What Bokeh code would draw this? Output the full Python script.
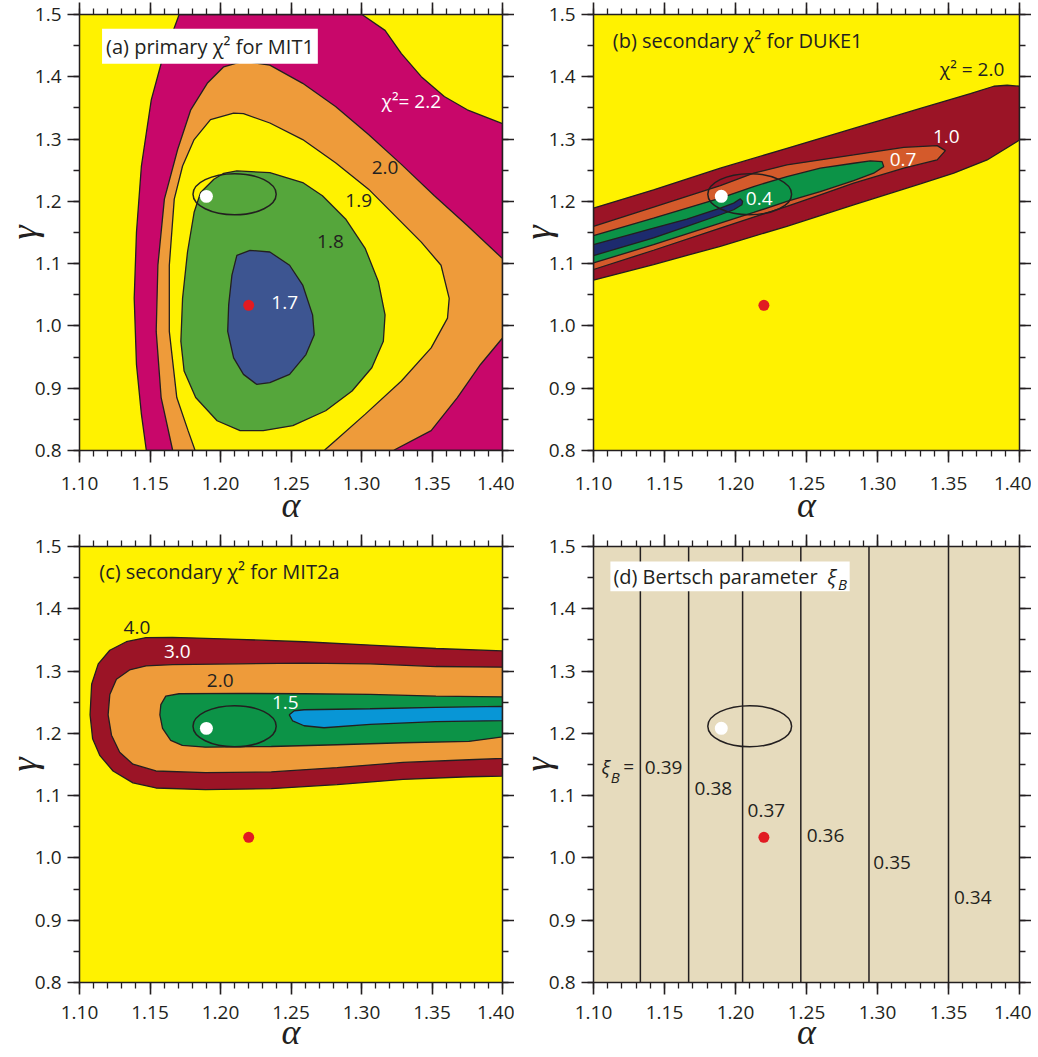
from bokeh.plotting import figure
from bokeh.models import (Range1d, LinearAxis, FixedTicker, ColumnDataSource,
                          Label, Span, BoxAnnotation)
from bokeh.layouts import column, row
from bokeh.embed import file_html
from bokeh.resources import INLINE
from bokeh.core.properties import value

# ---------------- axes / ticks ----------------
X_MAJOR = [1.10, 1.15, 1.20, 1.25, 1.30, 1.35, 1.40]
X_LABELS = ["1.10", "1.15", "1.20", "1.25", "1.30", "1.35", "1.40"]
X_MINOR = [round(1.10 + 0.01 * i, 2) for i in range(31)]
Y_MAJOR = [0.8, 0.9, 1.0, 1.1, 1.2, 1.3, 1.4, 1.5]
Y_LABELS = ["0.8", "0.9", "1.0", "1.1", "1.2", "1.3", "1.4", "1.5"]
Y_MINOR = [round(0.8 + 0.05 * i, 2) for i in range(15)]

# ---------------- common markers ----------------
white_point = (1.190, 1.208)
red_point = (1.220, 1.033)
ellipse_center = (1.210, 1.2115)
ellipse_half = (0.0295, 0.033)

# ---------------- panel (a) primary chi2 MIT1 ----------------
a_chi22_alpha = [1.1707, 1.1579, 1.1509, 1.1439, 1.1404, 1.1388, 1.1404, 1.1439, 1.1474,
                 1.400, 1.400, 1.3750, 1.3587, 1.3424, 1.3283, 1.3167, 1.3003]
a_chi22_gamma = [1.5, 1.4214, 1.3630, 1.2568, 1.1505, 1.0443, 0.9381, 0.8584, 0.8,
                 0.8, 1.3247, 1.3470, 1.3683, 1.4002, 1.4373, 1.4745, 1.5]
a_chi20_alpha = [1.1661, 1.1579, 1.1544, 1.1556, 1.1602, 1.1696, 1.1789, 1.1906, 1.2023,
                 1.2163, 1.2350, 1.2583, 1.2816, 1.3050, 1.3283, 1.3517, 1.3750, 1.400,
                 1.400, 1.3844, 1.3680, 1.3494, 1.3225]
a_chi20_gamma = [0.8, 0.8850, 0.9912, 1.0974, 1.2036, 1.2833, 1.3470, 1.3895, 1.4161,
                 1.4251, 1.4187, 1.3895, 1.3524, 1.3072, 1.2594, 1.2090, 1.1612, 1.1081,
                 0.9806, 0.9381, 0.8850, 0.8319, 0.8]
a_chi19_alpha = [1.2093, 1.1929, 1.1813, 1.1731, 1.1672, 1.1637, 1.1637, 1.1690, 1.1770,
                 1.1820, 1.2735, 1.2816, 1.3027, 1.3283, 1.3494, 1.3610, 1.3622, 1.3564,
                 1.3424, 1.3237, 1.3050, 1.2816, 1.2583, 1.2350, 1.2163]
a_chi19_gamma = [1.3417, 1.3311, 1.2992, 1.2568, 1.2036, 1.0974, 0.9912, 0.8850, 0.8319,
                 0.8, 0.8, 0.8160, 0.8584, 0.9115, 0.9647, 1.0125, 1.0443, 1.0974,
                 1.1346, 1.1771, 1.2196, 1.2621, 1.2992, 1.3258, 1.3407]
a_chi18_alpha = [1.2116, 1.2350, 1.2583, 1.2723, 1.2887, 1.3027, 1.3120, 1.3167, 1.3155,
                 1.3073, 1.2933, 1.2746, 1.2513, 1.2303, 1.2139, 1.1976, 1.1824, 1.1742,
                 1.1719, 1.1731, 1.1766, 1.1813, 1.1859, 1.1953, 1.2023]
a_chi18_gamma = [1.2488, 1.2461, 1.2302, 1.2090, 1.1718, 1.1240, 1.0709, 1.0178, 0.9753,
                 0.9328, 0.8956, 0.8638, 0.8399, 0.8319, 0.8319, 0.8478, 0.8850, 0.9275,
                 0.9753, 1.0443, 1.1187, 1.1824, 1.2143, 1.2355, 1.2451]
a_chi17_alpha = [1.2116, 1.2209, 1.2350, 1.2490, 1.2583, 1.2653, 1.2665, 1.2606, 1.2490,
                 1.2350, 1.2256, 1.2163, 1.2093, 1.2051, 1.2058, 1.2081]
a_chi17_gamma = [1.1134, 1.1213, 1.1187, 1.0974, 1.0656, 1.0178, 0.9859, 0.9540, 0.9222,
                 0.9089, 0.9062, 0.9222, 0.9487, 0.9912, 1.0337, 1.0815]
a_lab_text = ["χ²= 2.2", "2.0", "1.9", "1.8", "1.7"]
a_lab_alpha = [1.3353, 1.3167, 1.2980, 1.2780, 1.2455]
a_lab_gamma = [1.3619, 1.2540, 1.2010, 1.1360, 1.0380]

# ---------------- panel (b) secondary chi2 DUKE1 ----------------
b_chi20_alpha = [1.100, 1.1423, 1.1893, 1.2362, 1.2832, 1.3302, 1.3654, 1.3819, 1.3913, 1.400,
                 1.400, 1.3772, 1.3537, 1.3302, 1.2832, 1.2362, 1.1893, 1.1423, 1.100]
b_chi20_gamma = [1.1892, 1.2185, 1.2532, 1.2851, 1.3171, 1.3491, 1.3731, 1.3848, 1.3864, 1.3848,
                 1.2985, 1.2665, 1.2452, 1.2281, 1.1945, 1.1599, 1.1279, 1.0986, 1.0735]
b_chi10_alpha = [1.100, 1.1423, 1.1893, 1.2128, 1.2362, 1.2832, 1.3185, 1.3420, 1.3478,
                 1.3420, 1.3185, 1.2832, 1.2597, 1.2362, 1.2128, 1.1893, 1.1423, 1.100]
b_chi10_gamma = [1.1599, 1.1908, 1.2254, 1.2452, 1.2585, 1.2745, 1.2867, 1.2894, 1.2814,
                 1.2665, 1.2532, 1.2292, 1.2105, 1.1919, 1.1748, 1.1572, 1.1215, 1.0906]
b_chi07_alpha = [1.100, 1.1423, 1.1893, 1.2128, 1.2362, 1.2597, 1.2832, 1.2950, 1.3032,
                 1.3044, 1.2973, 1.2832, 1.2597, 1.2362, 1.2128, 1.1893, 1.1423, 1.100]
b_chi07_gamma = [1.1449, 1.1732, 1.2052, 1.2238, 1.2398, 1.2532, 1.2612, 1.2649, 1.2638,
                 1.2558, 1.2452, 1.2334, 1.2158, 1.1998, 1.1822, 1.1652, 1.1305, 1.1012]
b_chi04_alpha = [1.100, 1.1423, 1.1658, 1.1893, 1.1987, 1.2034, 1.2050, 1.2045, 1.1987,
                 1.1893, 1.1658, 1.1423, 1.100]
b_chi04_gamma = [1.1305, 1.1572, 1.1716, 1.1892, 1.1972, 1.2041, 1.1998, 1.1945, 1.1865,
                 1.1785, 1.1599, 1.1412, 1.1129]
b_lab_text = ["χ² = 2.0", "1.0", "0.7", "0.4"]
b_lab_alpha = [1.3666, 1.3485, 1.3180, 1.2167]
b_lab_gamma = [1.4131, 1.3049, 1.2665, 1.2041]

# ---------------- panel (c) secondary chi2 MIT2a ----------------
c_chi40_alpha = [1.400, 1.3528, 1.3061, 1.2593, 1.2126, 1.1659, 1.1472, 1.1332, 1.1215, 1.1133,
                 1.1086, 1.1075, 1.1093, 1.1145, 1.1238, 1.1379, 1.1542, 1.1893, 1.2360,
                 1.2827, 1.3294, 1.3762, 1.400]
c_chi40_gamma = [1.3324, 1.3362, 1.3417, 1.3471, 1.3509, 1.3542, 1.3537, 1.3471, 1.3335, 1.3116,
                 1.2789, 1.2297, 1.1915, 1.1642, 1.1396, 1.1205, 1.1123, 1.1096, 1.1112,
                 1.1178, 1.1260, 1.1303, 1.1314]
c_chi30_alpha = [1.400, 1.3528, 1.3061, 1.2593, 1.2126, 1.1659, 1.1472, 1.1355, 1.1262, 1.1215,
                 1.1203, 1.1227, 1.1285, 1.1379, 1.1542, 1.1893, 1.2360, 1.2827, 1.3294,
                 1.3762, 1.400]
c_chi30_gamma = [1.3062, 1.3073, 1.3116, 1.3127, 1.3116, 1.3105, 1.3083, 1.3018, 1.2870, 1.2625,
                 1.2297, 1.1970, 1.1697, 1.1505, 1.1396, 1.1369, 1.1380, 1.1451, 1.1533,
                 1.1576, 1.1598]
c_chi20_alpha = [1.400, 1.3528, 1.3061, 1.2593, 1.2126, 1.1706, 1.1612, 1.1577, 1.1570, 1.1589,
                 1.1647, 1.1729, 1.1893, 1.2360, 1.2827, 1.3294, 1.3762, 1.400]
c_chi20_gamma = [1.2587, 1.2597, 1.2625, 1.2636, 1.2641, 1.2636, 1.2597, 1.2461, 1.2297, 1.2079,
                 1.1888, 1.1806, 1.1778, 1.1789, 1.1817, 1.1849, 1.1871, 1.1942]
c_chi15_alpha = [1.2488, 1.2523, 1.2593, 1.3061, 1.3528, 1.400, 1.400, 1.3528, 1.3061, 1.2734,
                 1.2593, 1.2512]
c_chi15_gamma = [1.2297, 1.2363, 1.2379, 1.2395, 1.2417, 1.2434, 1.2204, 1.2188, 1.2144, 1.2090,
                 1.2122, 1.2199]
c_lab_text = ["4.0", "3.0", "2.0", "1.5"]
c_lab_alpha = [1.1407, 1.1694, 1.1998, 1.2460]
c_lab_gamma = [1.3700, 1.3307, 1.2854, 1.2500]

# ---------------- panel (d) Bertsch parameter ----------------
xi_line_alpha = [1.133, 1.167, 1.205, 1.246, 1.294, 1.350]
xi_lab_text = ["0.39", "0.38", "0.37", "0.36", "0.35", "0.34"]
xi_lab_alpha = [1.1494, 1.1844, 1.2217, 1.2634, 1.3103, 1.3671]
xi_lab_gamma = [1.1457, 1.1120, 1.0768, 1.0360, 0.9927, 0.9368]

# ---------------- styling ----------------
FONT = "Open Sans"
GREEK = "Liberation Serif"
INK = "#231f20"
YELLOW = "#fff200"
MAGENTA = "#c8076a"
ORANGE = "#ee9b3a"
GREEN_A = "#55a63b"
BLUE_A = "#3d5591"
DARKRED = "#9b1426"
ORANGERED = "#d45a2b"
GREEN_B = "#0c9347"
NAVY = "#1d2b6e"
LIGHTBLUE = "#0896d6"
BEIGE = "#e6dbbd"
REDDOT = "#e11b22"


def make_panel(bg, width, height, left, bottom, tick_standoff, xlab_standoff):
    p = figure(width=width, height=height,
               x_range=Range1d(1.10, 1.40), y_range=Range1d(0.8, 1.5),
               output_backend="svg", toolbar_location=None,
               x_axis_location=None, y_axis_location=None,
               min_border_left=left, min_border_right=0, min_border_top=14,
               min_border_bottom=bottom,
               background_fill_color=bg, border_fill_color="white",
               outline_line_color=None)
    p.grid.visible = False
    common = dict(axis_line_width=1.5, axis_line_color=INK,
                  major_tick_line_width=1.6, major_tick_line_color=INK,
                  minor_tick_line_width=1.3, minor_tick_line_color=INK,
                  major_tick_out=12, major_tick_in=0,
                  minor_tick_out=6, minor_tick_in=0)
    xt = FixedTicker(ticks=X_MAJOR, minor_ticks=X_MINOR)
    yt = FixedTicker(ticks=Y_MAJOR, minor_ticks=Y_MINOR)
    xb = LinearAxis(ticker=xt, major_label_overrides=dict(zip(X_MAJOR, X_LABELS)),
                    major_label_text_font=FONT, major_label_text_font_size="19px",
                    major_label_text_color=INK, major_label_standoff=tick_standoff,
                    axis_label="α", axis_label_text_font=GREEK,
                    axis_label_text_font_style="italic", axis_label_text_font_size="36px",
                    axis_label_text_color=INK, axis_label_standoff=xlab_standoff, **common)
    yl = LinearAxis(ticker=yt, major_label_overrides=dict(zip(Y_MAJOR, Y_LABELS)),
                    major_label_text_font=FONT, major_label_text_font_size="19px",
                    major_label_text_color=INK, major_label_standoff=6,
                    axis_label="γ", axis_label_text_font=GREEK,
                    axis_label_text_font_style="italic", axis_label_text_font_size="36px",
                    axis_label_text_color=INK, axis_label_standoff=-12, **common)
    xa = LinearAxis(ticker=xt, major_label_text_font_size="0px", major_label_text_color=None,
                    major_label_standoff=0, **common)
    yr = LinearAxis(ticker=yt, major_label_text_font_size="0px", major_label_text_color=None,
                    major_label_standoff=0, **common)
    p.add_layout(xb, "below")
    p.add_layout(yl, "left")
    p.add_layout(xa, "above")
    p.add_layout(yr, "right")
    return p


def region(p, xs, ys, color):
    p.patch(xs, ys, fill_color=color, line_color=INK, line_width=1.3)


def markers(p):
    p.ellipse(x=[ellipse_center[0]], y=[ellipse_center[1]],
              width=[2 * ellipse_half[0]], height=[2 * ellipse_half[1]],
              fill_color=None, line_color=INK, line_width=1.5)
    p.scatter([white_point[0]], [white_point[1]], size=13, fill_color="white", line_color=None)
    p.scatter([red_point[0]], [red_point[1]], size=11, fill_color=REDDOT, line_color=None)


def contour_labels(p, texts, xs, ys, colors):
    src = ColumnDataSource(dict(x=xs, y=ys, text=texts, color=colors))
    p.text(x="x", y="y", text="text", source=src, text_color="color",
           text_font=value(FONT), text_font_size=value("19px"),
           text_align="center", text_baseline="middle")


def title(p, text, x, y, box=False):
    kw = dict(background_fill_color="white", padding=4) if box else {}
    p.add_layout(Label(x=x, y=y, text=text, text_font=FONT, text_font_size="20px",
                       text_color=INK, text_align="left", text_baseline="middle", **kw))


W_A, W_B = 514, 517          # figure widths (left column / right column)
H_TOP, H_BOT = 532, 522      # figure heights (top row / bottom row)

# (a)
pa = make_panel(YELLOW, W_A, H_TOP, 74, 82, 14, -8)
region(pa, a_chi22_alpha, a_chi22_gamma, MAGENTA)
region(pa, a_chi20_alpha, a_chi20_gamma, ORANGE)
region(pa, a_chi19_alpha, a_chi19_gamma, YELLOW)
region(pa, a_chi18_alpha, a_chi18_gamma, GREEN_A)
region(pa, a_chi17_alpha, a_chi17_gamma, BLUE_A)
markers(pa)
contour_labels(pa, a_lab_text, a_lab_alpha, a_lab_gamma, ["white", INK, INK, INK, "white"])
title(pa, "(a) primary χ² for MIT1", 1.1160, 1.449, box=True)

# (b)
pb = make_panel(YELLOW, W_B, H_TOP, 79, 82, 14, -8)
region(pb, b_chi20_alpha, b_chi20_gamma, DARKRED)
region(pb, b_chi10_alpha, b_chi10_gamma, ORANGERED)
region(pb, b_chi07_alpha, b_chi07_gamma, GREEN_B)
region(pb, b_chi04_alpha, b_chi04_gamma, NAVY)
markers(pb)
contour_labels(pb, b_lab_text, b_lab_alpha, b_lab_gamma, [INK, "white", "white", "white"])
title(pb, "(b) secondary χ² for DUKE1", 1.1136, 1.4585)

# (c)
pc = make_panel(YELLOW, W_A, H_BOT, 74, 0, 11, -10)
region(pc, c_chi40_alpha, c_chi40_gamma, DARKRED)
region(pc, c_chi30_alpha, c_chi30_gamma, ORANGE)
region(pc, c_chi20_alpha, c_chi20_gamma, GREEN_B)
region(pc, c_chi15_alpha, c_chi15_gamma, LIGHTBLUE)
markers(pc)
contour_labels(pc, c_lab_text, c_lab_alpha, c_lab_gamma, [INK, "white", INK, "white"])
title(pc, "(c) secondary χ² for MIT2a", 1.114, 1.460)

# (d)
pd_ = make_panel(BEIGE, W_B, H_BOT, 79, 0, 11, -10)
for xv in xi_line_alpha:
    pd_.add_layout(Span(location=xv, dimension="height", line_color=INK, line_width=1.5))
markers(pd_)
contour_labels(pd_, xi_lab_text, xi_lab_alpha, xi_lab_gamma, [INK] * 6)
pd_.add_layout(BoxAnnotation(left=1.1119, right=1.2804, bottom=1.428, top=1.476,
                             fill_color="white", fill_alpha=1.0, line_color=None))
title(pd_, "(d) Bertsch parameter", 1.114, 1.452)
pd_.add_layout(Label(x=1.2678, y=1.452, text="ξ", text_font=FONT, text_font_style="italic",
                     text_font_size="20px", text_color=INK, text_align="center",
                     text_baseline="middle"))
pd_.add_layout(Label(x=1.2722, y=1.440, text="B", text_font=FONT, text_font_style="italic",
                     text_font_size="15px", text_color=INK, text_align="left",
                     text_baseline="middle"))
pd_.add_layout(Label(x=1.1086, y=1.1457, text="ξ", text_font=FONT, text_font_style="italic",
                     text_font_size="19px", text_color=INK, text_align="center",
                     text_baseline="middle"))
pd_.add_layout(Label(x=1.1122, y=1.1300, text="B", text_font=FONT, text_font_style="italic",
                     text_font_size="15px", text_color=INK, text_align="left",
                     text_baseline="middle"))
pd_.add_layout(Label(x=1.1247, y=1.1470, text="=", text_font=FONT,
                     text_font_size="19px", text_color=INK, text_align="center",
                     text_baseline="middle"))

layout = column(row(pa, pb), row(pc, pd_))
open("out.html", "w").write(file_html(layout, INLINE))
